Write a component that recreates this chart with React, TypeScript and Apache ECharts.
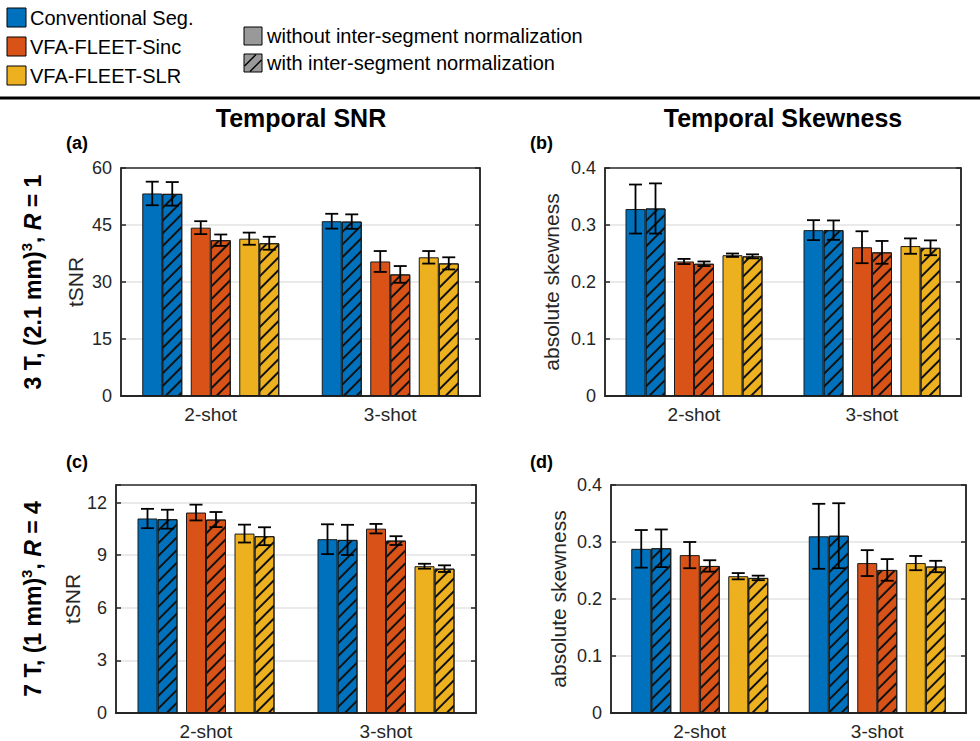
import React, { useEffect, useRef } from 'react';
import * as echarts from 'echarts';

const categories = ['2-shot', '3-shot'];
const methods = ['Conventional Seg.', 'VFA-FLEET-Sinc', 'VFA-FLEET-SLR'];
const methodColors = ['#0072BD', '#D95319', '#EDB120'];

// (a) 3T tSNR
const A_conv = [53.3, 46.0];
const A_convErr = [3.1, 1.95];
const A_convN = [53.2, 45.9];
const A_convNErr = [3.1, 1.9];
const A_sinc = [44.3, 35.4];
const A_sincErr = [1.7, 2.75];
const A_sincN = [41.0, 32.0];
const A_sincNErr = [1.5, 2.2];
const A_slr = [41.4, 36.5];
const A_slrErr = [1.6, 1.65];
const A_slrN = [40.2, 34.9];
const A_slrNErr = [1.7, 1.6];
const A_yTicks = [0, 15, 30, 45, 60];

// (b) 3T skewness
const B_conv = [0.328, 0.291];
const B_convErr = [0.043, 0.0175];
const B_convN = [0.329, 0.291];
const B_convNErr = [0.044, 0.017];
const B_sinc = [0.236, 0.261];
const B_sincErr = [0.0045, 0.028];
const B_sincN = [0.232, 0.252];
const B_sincNErr = [0.004, 0.02];
const B_slr = [0.247, 0.263];
const B_slrErr = [0.003, 0.0135];
const B_slrN = [0.245, 0.26];
const B_slrNErr = [0.0035, 0.013];
const B_yTicks = [0, 0.1, 0.2, 0.3, 0.4];

// (c) 7T tSNR
const C_conv = [11.09, 9.91];
const C_convErr = [0.55, 0.85];
const C_convN = [11.05, 9.87];
const C_convNErr = [0.54, 0.86];
const C_sinc = [11.43, 10.51];
const C_sincErr = [0.45, 0.27];
const C_sincN = [11.03, 9.83];
const C_sincNErr = [0.43, 0.25];
const C_slr = [10.23, 8.37];
const C_slrErr = [0.51, 0.14];
const C_slrN = [10.08, 8.23];
const C_slrNErr = [0.51, 0.19];
const C_yTicks = [0, 3, 6, 9, 12];
const C_yMax = 13;

// (d) 7T skewness
const D_conv = [0.288, 0.31];
const D_convErr = [0.033, 0.057];
const D_convN = [0.289, 0.311];
const D_convNErr = [0.033, 0.057];
const D_sinc = [0.277, 0.263];
const D_sincErr = [0.023, 0.0227];
const D_sincN = [0.258, 0.251];
const D_sincNErr = [0.01, 0.019];
const D_slr = [0.24, 0.263];
const D_slrErr = [0.0055, 0.0125];
const D_slrN = [0.237, 0.257];
const D_slrNErr = [0.004, 0.01];
const D_yTicks = [0, 0.1, 0.2, 0.3, 0.4];

const FONT = "'Liberation Sans', Arial, Helvetica, sans-serif";
const AXIS_COLOR = '#262626';
const BAR_W = 20;
const PAIR_GAP = 8.5;
const SLOT_OFFSETS = [-58.5, -38.5, -10, 10, 38.5, 58.5];

const HATCH = {
  symbol: 'rect',
  symbolSize: 1,
  color: '#111',
  dashArrayX: [1, 0],
  dashArrayY: [2, 7],
  rotation: -Math.PI / 4,
};

const panels = [
  {
    grid: { left: 121, top: 168, width: 359, height: 228 },
    means: [A_conv, A_convN, A_sinc, A_sincN, A_slr, A_slrN],
    errs: [A_convErr, A_convNErr, A_sincErr, A_sincNErr, A_slrErr, A_slrNErr],
    ticks: A_yTicks, yMax: A_yTicks[A_yTicks.length - 1], yName: 'tSNR', nameGap: 35,
  },
  {
    grid: { left: 605, top: 168, width: 356, height: 228 },
    means: [B_conv, B_convN, B_sinc, B_sincN, B_slr, B_slrN],
    errs: [B_convErr, B_convNErr, B_sincErr, B_sincNErr, B_slrErr, B_slrNErr],
    ticks: B_yTicks, yMax: B_yTicks[B_yTicks.length - 1], yName: 'absolute skewness', nameGap: 43,
  },
  {
    grid: { left: 116, top: 485, width: 360, height: 228 },
    means: [C_conv, C_convN, C_sinc, C_sincN, C_slr, C_slrN],
    errs: [C_convErr, C_convNErr, C_sincErr, C_sincNErr, C_slrErr, C_slrNErr],
    ticks: C_yTicks, yMax: C_yMax, yName: 'tSNR', nameGap: 32,
  },
  {
    grid: { left: 611, top: 485, width: 355, height: 228 },
    means: [D_conv, D_convN, D_sinc, D_sincN, D_slr, D_slrN],
    errs: [D_convErr, D_convNErr, D_sincErr, D_sincNErr, D_slrErr, D_slrNErr],
    ticks: D_yTicks, yMax: D_yTicks[D_yTicks.length - 1], yName: 'absolute skewness', nameGap: 42,
  },
];

function buildOption() {
  const grid: any[] = [];
  const xAxis: any[] = [];
  const yAxis: any[] = [];
  const series: any[] = [];

  panels.forEach((p, pi) => {
    grid.push({ ...p.grid, show: true, borderColor: AXIS_COLOR, borderWidth: 1.5, backgroundColor: 'transparent' });
    xAxis.push({
      type: 'category', gridIndex: pi, data: categories,
      axisLine: { show: true, lineStyle: { color: AXIS_COLOR, width: 2 } },
      axisTick: { show: false },
      axisLabel: { color: AXIS_COLOR, fontSize: 19, margin: 9, fontFamily: FONT },
      splitLine: { show: false },
    });
    const interval = p.ticks[1] - p.ticks[0];
    yAxis.push({
      type: 'value', gridIndex: pi, position: 'left', min: p.ticks[0], max: p.yMax, interval,
      name: p.yName, nameLocation: 'middle', nameGap: p.nameGap,
      nameTextStyle: { color: AXIS_COLOR, fontSize: 21, fontFamily: FONT },
      axisLine: { show: true, lineStyle: { color: AXIS_COLOR, width: 1.5 } },
      axisTick: { show: true, inside: true, length: 5, lineStyle: { color: AXIS_COLOR, width: 1.5 } },
      axisLabel: {
        color: AXIS_COLOR, fontSize: 18, margin: 9, fontFamily: FONT,
        formatter: (v: number) => (p.ticks.some((t) => Math.abs(t - v) < 1e-9) ? String(+v.toFixed(4)) : ''),
      },
      splitLine: { show: true, showMinLine: false, showMaxLine: false, lineStyle: { color: '#e3e3e3', width: 1.5 } },
    });
    yAxis.push({
      type: 'value', gridIndex: pi, position: 'right', min: p.ticks[0], max: p.yMax, interval,
      axisLine: { show: true, lineStyle: { color: AXIS_COLOR, width: 1.5 } },
      axisTick: { show: true, inside: true, length: 5, lineStyle: { color: AXIS_COLOR, width: 1.5 } },
      axisLabel: { show: false },
      splitLine: { show: false },
    });

    const slots: (number | string)[] = [0, 1, 'gap', 2, 3, 'gap', 4, 5];
    slots.forEach((s) => {
      if (s === 'gap') {
        series.push({
          type: 'bar', xAxisIndex: pi, yAxisIndex: pi * 2, data: [null, null],
          barWidth: PAIR_GAP, barGap: '0%', silent: true,
        });
      } else {
        const si = s as number;
        const m = Math.floor(si / 2);
        const hatched = si % 2 === 1;
        series.push({
          type: 'bar',
          name: methods[m] + (hatched ? ' (with normalization)' : ''),
          xAxisIndex: pi, yAxisIndex: pi * 2,
          data: p.means[si],
          barWidth: BAR_W, barGap: '0%',
          itemStyle: {
            color: methodColors[m], borderColor: '#1a1a1a', borderWidth: 1,
            ...(hatched ? { decal: HATCH } : {}),
          },
          emphasis: { disabled: true },
        });
      }
    });

    const errData: number[][] = [];
    for (let si = 0; si < 6; si++) {
      categories.forEach((_, ci) => {
        const m = p.means[si][ci];
        const e = p.errs[si][ci];
        errData.push([ci, m - e, m + e, si]);
      });
    }
    series.push({
      type: 'custom', xAxisIndex: pi, yAxisIndex: pi * 2, data: errData,
      encode: { x: 0, y: [1, 2] }, z: 10, silent: true, clip: false,
      renderItem: (params: any, api: any) => {
        const ci = api.value(0);
        const lo = api.coord([ci, api.value(1)]);
        const hi = api.coord([ci, api.value(2)]);
        const x = lo[0] + SLOT_OFFSETS[api.value(3)];
        const cap = 6.5;
        const st = { stroke: '#000', lineWidth: 1.8 };
        return {
          type: 'group',
          children: [
            { type: 'line', shape: { x1: x, y1: lo[1], x2: x, y2: hi[1] }, style: st },
            { type: 'line', shape: { x1: x - cap, y1: lo[1], x2: x + cap, y2: lo[1] }, style: st },
            { type: 'line', shape: { x1: x - cap, y1: hi[1], x2: x + cap, y2: hi[1] }, style: st },
          ],
        };
      },
    });
  });

  const graphic: any[] = [];
  // legend: methods
  methods.forEach((name, i) => {
    const y = 8 + i * 29;
    graphic.push({ type: 'rect', shape: { x: 7, y, width: 19, height: 19 }, style: { fill: methodColors[i], stroke: '#000', lineWidth: 1 } });
    graphic.push({ type: 'text', x: 30, y: y + 10, style: { text: name, fill: '#000', font: `20px ${FONT}`, align: 'left', verticalAlign: 'middle' } });
  });
  // legend: normalization
  graphic.push({ type: 'rect', shape: { x: 244, y: 27, width: 18, height: 18 }, style: { fill: '#999', stroke: '#000', lineWidth: 1 } });
  graphic.push({ type: 'text', x: 267, y: 36, style: { text: 'without inter-segment normalization', fill: '#000', font: `20px ${FONT}`, align: 'left', verticalAlign: 'middle' } });
  graphic.push({ type: 'rect', shape: { x: 244, y: 54, width: 18, height: 18 }, style: { fill: '#999', stroke: '#000', lineWidth: 1 } });
  graphic.push({ type: 'line', shape: { x1: 244.5, y1: 66, x2: 256, y2: 54.5 }, style: { stroke: '#000', lineWidth: 1.5 } });
  graphic.push({ type: 'line', shape: { x1: 250, y1: 71.5, x2: 261.5, y2: 60 }, style: { stroke: '#000', lineWidth: 1.5 } });
  graphic.push({ type: 'text', x: 267, y: 63, style: { text: 'with inter-segment normalization', fill: '#000', font: `20px ${FONT}`, align: 'left', verticalAlign: 'middle' } });
  // separator
  graphic.push({ type: 'line', shape: { x1: 0, y1: 98, x2: 980, y2: 98 }, style: { stroke: '#000', lineWidth: 3 } });
  // column titles
  graphic.push({ type: 'text', x: 301, y: 118, style: { text: 'Temporal SNR', fill: '#000', font: `bold 25px ${FONT}`, align: 'center', verticalAlign: 'middle' } });
  graphic.push({ type: 'text', x: 783, y: 118, style: { text: 'Temporal Skewness', fill: '#000', font: `bold 25px ${FONT}`, align: 'center', verticalAlign: 'middle' } });
  // panel labels
  const labels = [['(a)', 66, 143], ['(b)', 530, 143], ['(c)', 66, 462], ['(d)', 530, 462]];
  labels.forEach(([t, x, y]) => {
    graphic.push({ type: 'text', x, y, style: { text: t, fill: '#000', font: `bold 18px ${FONT}`, align: 'left', verticalAlign: 'middle' } });
  });
  // row labels
  const rich = {
    b: { fontSize: 23, fontWeight: 'bold', fontFamily: FONT, fill: '#000', lineHeight: 28 },
    i: { fontSize: 23, fontWeight: 'bold', fontStyle: 'italic', fontFamily: FONT, fill: '#000', lineHeight: 28 },
    sup: { fontSize: 15, fontWeight: 'bold', fontFamily: FONT, fill: '#000', lineHeight: 16, verticalAlign: 'top' },
  };
  graphic.push({ type: 'text', x: 33, y: 282, rotation: Math.PI / 2, style: { text: '{b|3 T, (2.1 mm)}{sup|3}{b|, }{i|R}{b| = 1}', rich, align: 'center', verticalAlign: 'middle' } });
  graphic.push({ type: 'text', x: 33, y: 599, rotation: Math.PI / 2, style: { text: '{b|7 T, (1 mm)}{sup|3}{b|, }{i|R}{b| = 4}', rich, align: 'center', verticalAlign: 'middle' } });

  return {
    animation: false,
    backgroundColor: '#fff',
    textStyle: { fontFamily: FONT },
    grid, xAxis, yAxis, series, graphic,
  };
}

export default function App() {
  const ref = useRef<HTMLDivElement>(null);
  useEffect(() => {
    document.body.style.margin = '0';
    if (!ref.current) return;
    const chart = echarts.init(ref.current, undefined, { renderer: 'svg' });
    chart.setOption(buildOption() as any);
    return () => chart.dispose();
  }, []);
  return <div ref={ref} style={{ width: 980, height: 741 }} />;
}
